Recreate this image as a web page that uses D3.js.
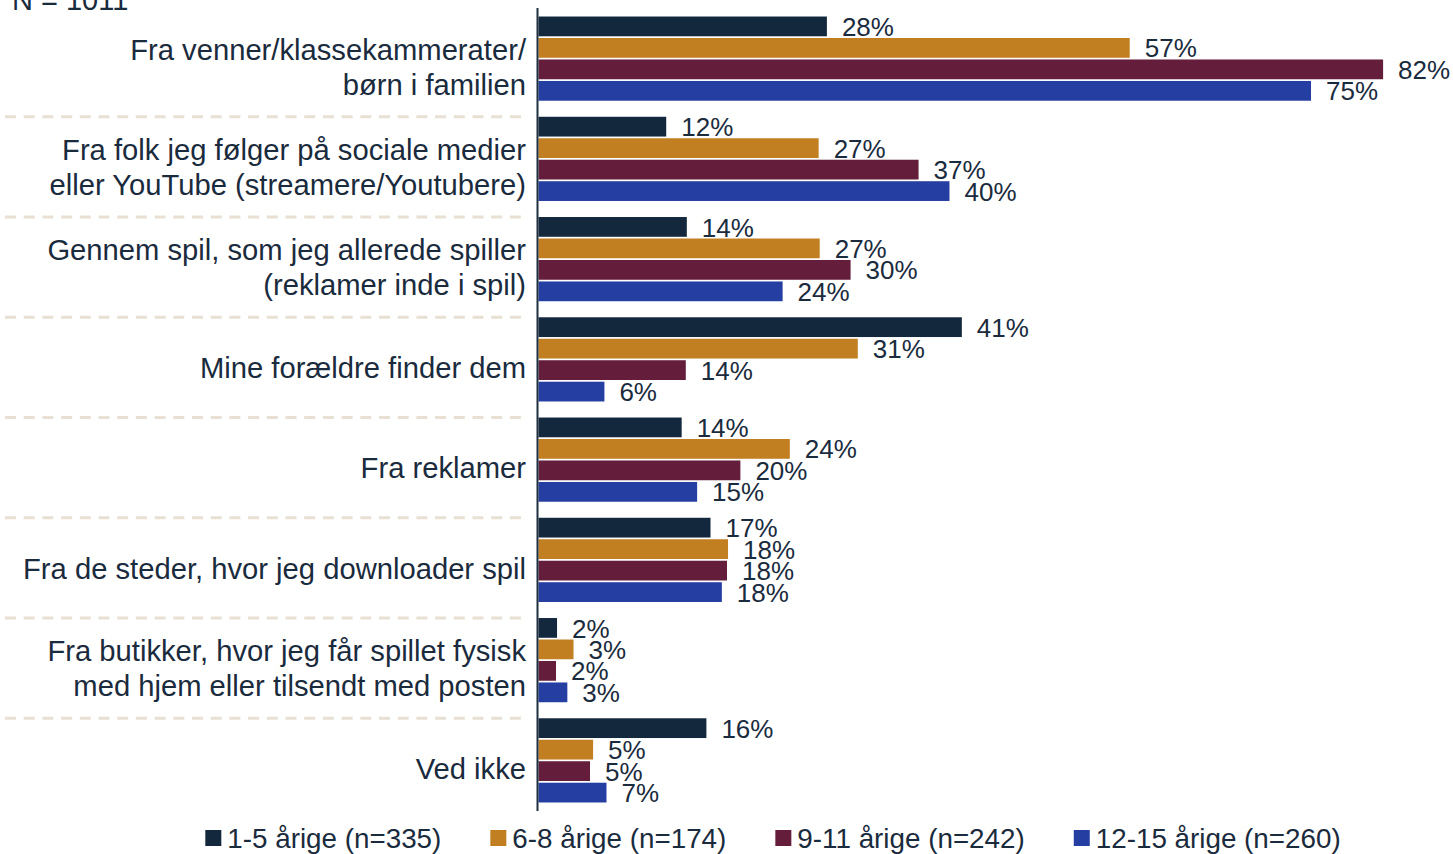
<!DOCTYPE html>
<html>
<head>
<meta charset="utf-8">
<script src="https://cdn.jsdelivr.net/npm/d3@7"></script>
<style>
  html, body { margin: 0; padding: 0; background: #fff; }
  svg { display: block; font-family: "Liberation Sans", Arial, sans-serif; }
</style>
</head>
<body>
<svg id="chart" width="1453" height="854"></svg>
<script>
// ---- data ----
const categories = [
  "Fra venner/klassekammerater/\nbørn i familien",
  "Fra folk jeg følger på sociale medier\neller YouTube (streamere/Youtubere)",
  "Gennem spil, som jeg allerede spiller\n(reklamer inde i spil)",
  "Mine forældre finder dem",
  "Fra reklamer",
  "Fra de steder, hvor jeg downloader spil",
  "Fra butikker, hvor jeg får spillet fysisk\nmed hjem eller tilsendt med posten",
  "Ved ikke"
];
const seriesNames = ["1-5 årige (n=335)", "6-8 årige (n=174)", "9-11 årige (n=242)", "12-15 årige (n=260)"];
const age1to5   = [28.0, 12.4, 14.4, 41.1, 13.9, 16.7, 1.8, 16.3];
const age6to8   = [57.4, 27.2, 27.3, 31.0, 24.4, 18.4, 3.4, 5.3];
const age9to11  = [82.0, 36.9, 30.3, 14.3, 19.6, 18.3, 1.7, 5.0];
const age12to15 = [75.0, 39.9, 23.7, 6.4, 15.4, 17.8, 2.8, 6.6];
const seriesValues = [age1to5, age6to8, age9to11, age12to15];
const seriesColors = ["#13283c", "#c27f22", "#641e3b", "#253ea1"];
const titleText = "N = 1011";

// ---- layout ----
const svg = d3.select("#chart");
const textColor = "#1a2b3d";
const axisX = 538.5;

const x = d3.scaleLinear().domain([0, 90]).range([axisX, axisX + 927]);
const y0 = d3.scaleBand().domain(d3.range(categories.length)).range([8, 811])
  .paddingInner(0.16).paddingOuter(0.085);
const y1 = d3.scaleBand().domain(d3.range(seriesNames.length)).range([0, y0.bandwidth()])
  .paddingInner(0.08);

// title (partially cut at top)
svg.append("text").attr("x", 12).attr("y", 10)
  .attr("font-size", 29).attr("fill", textColor).text(titleText);

// dashed separators
svg.append("g").selectAll("line")
  .data(d3.range(1, categories.length))
  .join("line")
  .attr("x1", 5).attr("x2", 528)
  .attr("y1", i => y0(i)).attr("y2", i => y0(i))
  .attr("stroke", "#e8e1d3").attr("stroke-width", 3)
  .attr("stroke-dasharray", "11 7.7");

// category labels
const catFs = 29.2;
const catG = svg.append("g");
categories.forEach((c, i) => {
  const lines = c.split("\n");
  const center = y0(i) + y0.bandwidth() / 2 + 8.5;
  const lh = 35;
  const t = catG.append("text")
    .attr("text-anchor", "end")
    .attr("font-size", catFs)
    .attr("fill", textColor);
  lines.forEach((ln, j) => {
    const yy = center + (j - (lines.length - 1) / 2) * lh + 0.35 * catFs;
    t.append("tspan").attr("x", 526).attr("y", yy).text(ln);
  });
});

// bars
const groups = svg.append("g").selectAll("g")
  .data(categories.map((c, i) => i))
  .join("g")
  .attr("transform", i => `translate(0,${y0(i)})`);

groups.selectAll("rect")
  .data(i => seriesValues.map((vals, s) => ({ s, v: vals[i] })))
  .join("rect")
  .attr("x", x(0))
  .attr("y", d => y1(d.s))
  .attr("width", d => x(d.v) - x(0))
  .attr("height", y1.bandwidth())
  .attr("fill", d => seriesColors[d.s]);

const fmt = d3.format(".0f");
groups.selectAll("text")
  .data(i => seriesValues.map((vals, s) => ({ s, v: vals[i] })))
  .join("text")
  .attr("x", d => x(d.v) + 15)
  .attr("y", d => y1(d.s) + y1.bandwidth() / 2)
  .attr("dy", "0.37em")
  .attr("font-size", 26)
  .attr("fill", textColor)
  .text(d => fmt(d.v) + "%");

// axis line
svg.append("line")
  .attr("x1", axisX - 1).attr("x2", axisX - 1)
  .attr("y1", 8).attr("y2", 811)
  .attr("stroke", "#1f3040").attr("stroke-width", 2);

// legend
const legend = svg.append("g");
const legendSize = 27.8;
let cx = 0;
seriesNames.forEach((name, s) => {
  const g = legend.append("g").attr("transform", `translate(${cx},0)`);
  g.append("rect").attr("x", 0).attr("y", -8).attr("width", 16).attr("height", 16)
    .attr("fill", seriesColors[s]);
  const t = g.append("text").attr("x", 22).attr("y", 0).attr("dy", "0.36em")
    .attr("font-size", legendSize).attr("fill", textColor).text(name);
  const w = t.node().getComputedTextLength();
  cx += 22 + w + 49;
});
const totalW = cx - 49;
legend.attr("transform", `translate(${773 - totalW / 2},838)`);
</script>
</body>
</html>
